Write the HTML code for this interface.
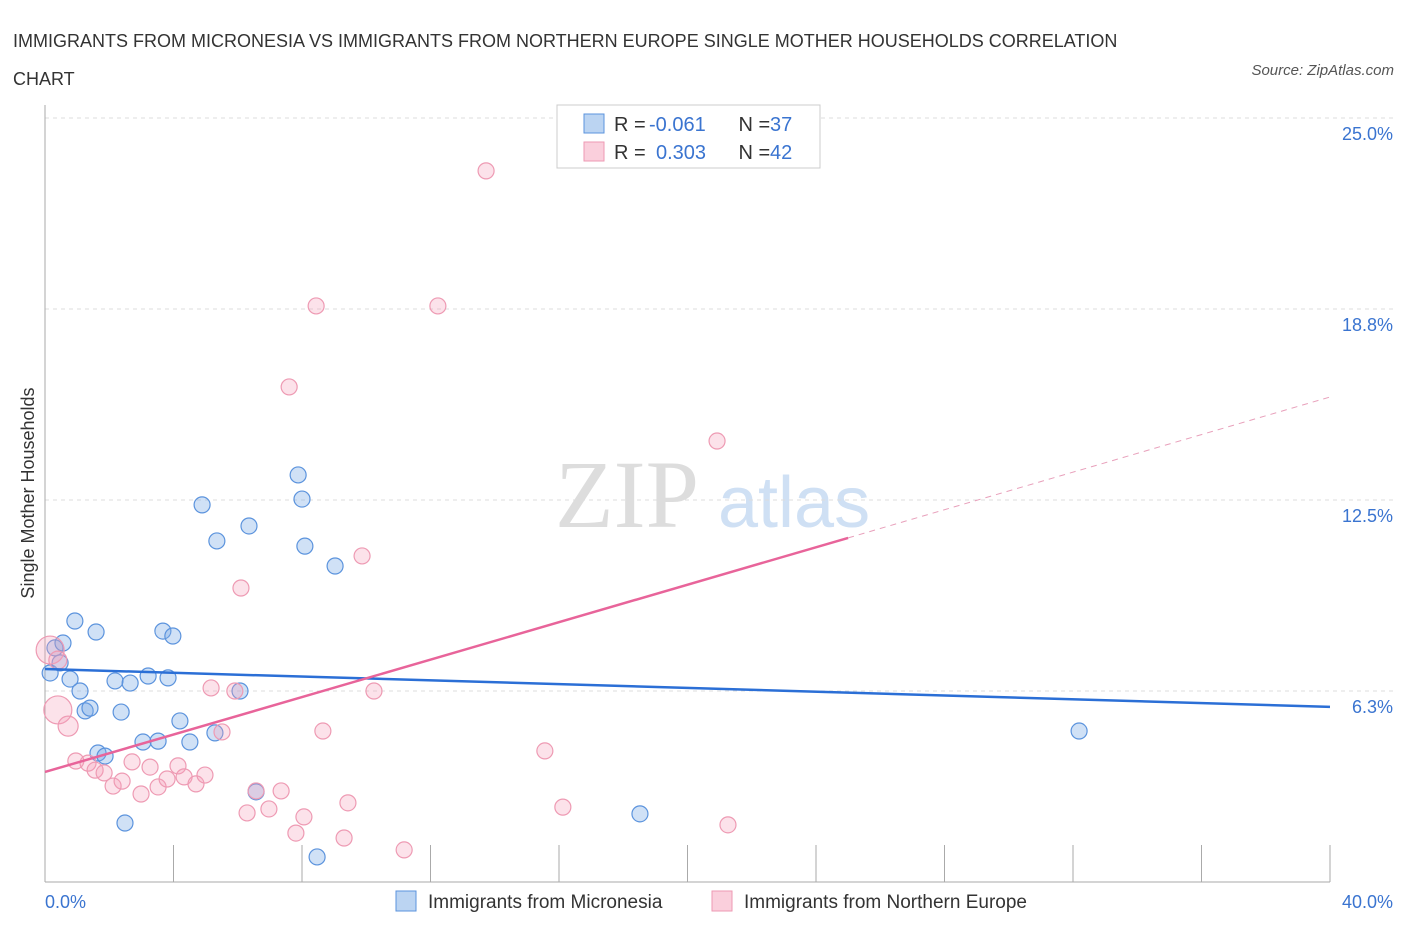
<!DOCTYPE html>
<html><head><meta charset="utf-8"><style>
body{margin:0;background:#fff;font-family:"Liberation Sans",sans-serif;}
#wrap{position:relative;width:1406px;height:930px;overflow:hidden;}
.t{position:absolute;white-space:nowrap;}
</style></head><body>
<div id="wrap">
<div class="t" style="left:13px;top:22px;font-size:18px;color:#333;line-height:38px;">IMMIGRANTS FROM MICRONESIA VS IMMIGRANTS FROM NORTHERN EUROPE SINGLE MOTHER HOUSEHOLDS CORRELATION<br>CHART</div>
<div class="t" style="right:12px;top:62px;font-size:15px;color:#555;font-style:italic;">Source: ZipAtlas.com</div>
<svg id="svg" width="1406" height="930" style="position:absolute;left:0;top:0"></svg>
</div>
<script>
const xTicks=[0,40];
const yTicks=[6.25,12.5,18.75,25];
const yTickLabels=["6.3%","12.5%","18.8%","25.0%"];
const blueX=[0.16,0.31,0.47,0.56,0.78,0.93,1.09,1.25,1.40,1.59,1.65,1.87,2.37,2.49,2.18,2.65,3.05,3.21,3.52,3.67,3.83,3.98,4.20,4.51,4.89,5.29,5.35,6.07,6.35,6.57,7.88,8.00,8.09,8.47,9.03,18.52,32.19];
const blueY=[6.84,7.66,7.17,7.82,6.64,8.54,6.25,5.60,5.69,8.18,4.22,4.12,5.56,1.93,6.58,6.51,4.58,6.74,4.61,8.21,6.68,8.05,5.27,4.58,12.34,4.88,11.16,6.25,11.65,2.95,13.32,12.53,10.99,0.82,10.34,2.23,4.94];
const pinkX=[0.16,0.40,0.72,0.40,0.96,1.34,1.56,1.84,2.12,2.40,2.71,2.99,3.27,3.52,3.80,4.14,4.33,4.70,4.98,5.17,5.51,5.91,6.10,6.29,6.57,6.97,7.35,7.60,7.81,8.06,8.44,8.65,9.31,9.43,9.87,10.24,11.18,12.23,13.73,15.56,16.12,20.92,21.26];
const pinkY=[7.59,5.63,5.10,7.26,3.96,3.89,3.66,3.57,3.14,3.30,3.93,2.88,3.76,3.11,3.37,3.80,3.44,3.21,3.50,6.35,4.91,6.25,9.62,2.26,2.98,2.39,2.98,16.20,1.60,2.13,18.85,4.94,1.44,2.59,10.67,6.25,1.05,18.85,23.27,4.29,2.45,14.43,1.87];
const pinkR=[14,14,10,9,8,8,8,8,8,8,8,8,8,8,8,8,8,8,8,8,8,8,8,8,8,8,8,8,8,8,8,8,8,8,8,8,8,8,8,8,8,8,8];
const blueTrend=[6.97,5.73];
const pinkTrend=[3.60,11.26,15.87];
const pinkTrendX=[0,25,40];

const X=v=>45+v*32.125, Y=v=>882-v*30.56;
const svg=document.getElementById('svg');
const NS='http://www.w3.org/2000/svg';
function mk(tag,attrs,parent){const e=document.createElementNS(NS,tag);for(const k in attrs)e.setAttribute(k,attrs[k]);(parent||svg).appendChild(e);return e;}

let wm=mk('text',{x:555,y:527,'font-size':96,fill:'#ddd','font-family':'Liberation Serif'});


wm.textContent='ZIP';
let wm2=mk('text',{x:718,y:527,'font-size':72,fill:'#cfe0f4','font-family':'Liberation Sans'});


wm2.textContent='atlas';

yTicks.forEach((v,i)=>{
 let g=mk('line',{x1:45,x2:1395,y1:Y(v),y2:Y(v),stroke:'#ddd','stroke-dasharray':'4,4'});
 
 
 let t=mk('text',{x:1393,y:Y(v)+22,'text-anchor':'end','font-size':18,fill:'#3a74d0'});
 
 
 t.textContent=yTickLabels[i];
});
let ax=mk('line',{x1:45,x2:45,y1:105,y2:882,stroke:'#aaa'});


let bx=mk('line',{x1:45,x2:1330,y1:882,y2:882,stroke:'#aaa'});


for(let i=1;i<=10;i++){let tk=mk('line',{x1:X(i*4),x2:X(i*4),y1:845,y2:882,stroke:'#aaa'});
 
 }
xTicks.forEach((v,i)=>{let t=mk('text',{x:i?1393:45,y:908,'text-anchor':i?'end':'start','font-size':18,fill:'#3a74d0'});
 
 
 t.textContent=v.toFixed(1)+'%';});
let yt=mk('text',{x:34,y:493,'text-anchor':'middle','font-size':18,fill:'#333',transform:'rotate(-90 34 493)'});


yt.textContent='Single Mother Households';

blueX.forEach((v,i)=>{let c=mk('circle',{cx:X(v),cy:Y(blueY[i]),r:8,fill:'rgba(120,170,230,0.35)',stroke:'#5b93dd','stroke-width':1.2});
 
 });
pinkX.forEach((v,i)=>{let c=mk('circle',{cx:X(v),cy:Y(pinkY[i]),r:pinkR[i],fill:'rgba(245,160,185,0.3)',stroke:'#ee9ab3','stroke-width':1.2});
 
 });

let bl=mk('line',{x1:X(0),y1:Y(blueTrend[0]),x2:X(40),y2:Y(blueTrend[1]),stroke:'#2b6fd6','stroke-width':2.5});


let pl=mk('line',{x1:X(pinkTrendX[0]),y1:Y(pinkTrend[0]),x2:X(pinkTrendX[1]),y2:Y(pinkTrend[1]),stroke:'#e8649a','stroke-width':2.5});


let pd=mk('line',{x1:X(pinkTrendX[1]),y1:Y(pinkTrend[1]),x2:X(pinkTrendX[2]),y2:Y(pinkTrend[2]),stroke:'#e8a0bb','stroke-width':1,'stroke-dasharray':'6,5'});



// top legend
let lb=mk('rect',{x:557,y:105,width:263,height:63,fill:'#fff',stroke:'#ccc'});


[[114,'rgba(120,170,230,0.5)','#5b93dd','-0.061','37'],[142,'rgba(245,160,185,0.5)','#ee9ab3','0.303','42']].forEach(r=>{
 let s=mk('rect',{x:584,y:r[0],width:20,height:19,fill:r[1],stroke:r[2]});
 
 
 let t=mk('text',{x:614,y:r[0]+17,'font-size':20,fill:'#333'});
 
 
 t.innerHTML='R = <tspan fill="#3a74d0" x="'+(r[3][0]=='-'?649:656)+'">'+r[3]+'</tspan><tspan x="733"> N = </tspan><tspan fill="#3a74d0" x="770">'+r[4]+'</tspan>';
});
// bottom legend
[[396,'rgba(120,170,230,0.5)','#5b93dd','Immigrants from Micronesia','legend-micronesia'],[712,'rgba(245,160,185,0.5)','#ee9ab3','Immigrants from Northern Europe','legend-northern-europe']].forEach(r=>{
 let s=mk('rect',{x:r[0],y:891,width:20,height:20,fill:r[1],stroke:r[2]});
 
 
 let t=mk('text',{x:r[0]+32,y:908,'font-size':19,fill:'#333'});
 
 
 t.textContent=r[3];
});
</script>
</body></html>
